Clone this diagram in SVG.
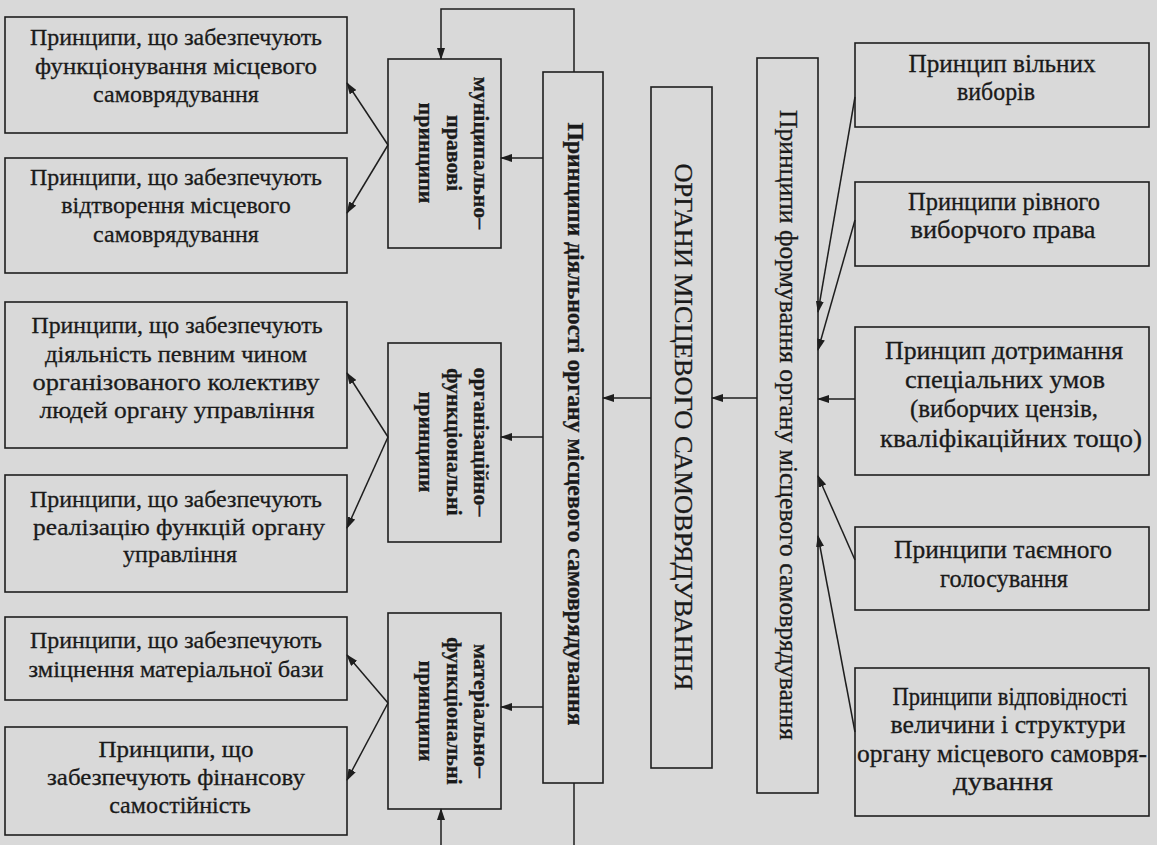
<svg xmlns="http://www.w3.org/2000/svg" width="1157" height="845" viewBox="0 0 1157 845">
<defs>
<marker id="ah" markerWidth="12" markerHeight="8" refX="11" refY="4" orient="auto" markerUnits="userSpaceOnUse">
<path d="M0,0 L12,4 L0,8 Z" fill="#1e1e1e"/>
</marker>
<style>
.box{fill:none;stroke:#1e1e1e;stroke-width:1.6}
.t{font-family:"Liberation Serif","Times New Roman",serif;font-size:24px;fill:#1a1a1a;stroke:#1a1a1a;stroke-width:0.3;text-anchor:middle}
.r{font-size:25px}
.b{font-weight:bold}
.v{font-family:"Liberation Serif","Times New Roman",serif;fill:#1a1a1a;stroke:#1a1a1a;stroke-width:0.3;text-anchor:middle}
.c{fill:none;stroke:#1e1e1e;stroke-width:1.5}
.ca{fill:none;stroke:#1e1e1e;stroke-width:1.5;marker-end:url(#ah)}
</style>
</defs>
<rect x="0" y="0" width="1157" height="845" fill="#d9d9d9"/>

<g id="connectors">
<path class="ca" d="M574,72 V9 H441 V59"/>
<path class="c" d="M574,783 V845"/>
<path class="ca" d="M441,845 V809"/>
<path class="ca" d="M543,158 H501"/>
<path class="ca" d="M543,437 H501"/>
<path class="ca" d="M543,707 H501"/>
<path class="ca" d="M651,398 H603"/>
<path class="ca" d="M757,398 H712"/>
<path class="ca" d="M388,145 L347,83"/>
<path class="ca" d="M388,145 L347,213"/>
<path class="ca" d="M388,437 L347,373"/>
<path class="ca" d="M388,437 L347,528"/>
<path class="ca" d="M388,703 L347,655"/>
<path class="ca" d="M388,703 L347,780"/>
<path class="ca" d="M855,97 L818,312"/>
<path class="ca" d="M855,220 L818,350"/>
<path class="ca" d="M855,399 H818"/>
<path class="ca" d="M855,560 L818,476"/>
<path class="ca" d="M855,732 L818,536"/>
</g>

<g id="left1">
<rect class="box" x="5" y="17" width="342" height="116"/>
<text class="t" x="176" y="45" textLength="292" lengthAdjust="spacingAndGlyphs">Принципи, що забезпечують</text>
<text class="t" x="176" y="74" textLength="282" lengthAdjust="spacingAndGlyphs">функціонування місцевого</text>
<text class="t" x="176" y="102">самоврядування</text>
</g>
<g id="left2">
<rect class="box" x="5" y="158" width="342" height="115"/>
<text class="t" x="176" y="185" textLength="292" lengthAdjust="spacingAndGlyphs">Принципи, що забезпечують</text>
<text class="t" x="176" y="213">відтворення місцевого</text>
<text class="t" x="176" y="242">самоврядування</text>
</g>
<g id="left3">
<rect class="box" x="5" y="302" width="342" height="146"/>
<text class="t" x="177" y="333" textLength="291" lengthAdjust="spacingAndGlyphs">Принципи, що забезпечують</text>
<text class="t" x="176" y="362" textLength="262" lengthAdjust="spacingAndGlyphs">діяльність певним чином</text>
<text class="t" x="176" y="390" textLength="287" lengthAdjust="spacingAndGlyphs">організованого колективу</text>
<text class="t" x="177" y="418" textLength="275" lengthAdjust="spacingAndGlyphs">людей органу управління</text>
</g>
<g id="left4">
<rect class="box" x="5" y="475" width="342" height="117"/>
<text class="t" x="176" y="507" textLength="292" lengthAdjust="spacingAndGlyphs">Принципи, що забезпечують</text>
<text class="t" x="179" y="535" textLength="292" lengthAdjust="spacingAndGlyphs">реалізацію функцій органу</text>
<text class="t" x="180" y="562">управління</text>
</g>
<g id="left5">
<rect class="box" x="5" y="617" width="342" height="83"/>
<text class="t" x="176" y="648" textLength="292" lengthAdjust="spacingAndGlyphs">Принципи, що забезпечують</text>
<text class="t" x="176" y="677" textLength="295" lengthAdjust="spacingAndGlyphs">зміцнення матеріальної бази</text>
</g>
<g id="left6">
<rect class="box" x="5" y="727" width="342" height="108"/>
<text class="t" x="176" y="757" textLength="155" lengthAdjust="spacingAndGlyphs">Принципи, що</text>
<text class="t" x="176" y="785" textLength="258" lengthAdjust="spacingAndGlyphs">забезпечують фінансову</text>
<text class="t" x="180" y="813">самостійність</text>
</g>

<g id="mid1">
<rect class="box" x="388" y="59" width="113" height="189"/>
<g transform="translate(474,153) rotate(90)">
<text class="v b" font-size="22" x="0" y="0">муніципально–</text>
<text class="v b" font-size="22" x="0" y="27">правові</text>
<text class="v b" font-size="22" x="0" y="55">принципи</text>
</g>
</g>
<g id="mid2">
<rect class="box" x="388" y="343" width="113" height="199"/>
<g transform="translate(474,442) rotate(90)">
<text class="v b" font-size="22" x="0" y="0">організаційно–</text>
<text class="v b" font-size="22" x="0" y="27">функціональні</text>
<text class="v b" font-size="22" x="0" y="55">принципи</text>
</g>
</g>
<g id="mid3">
<rect class="box" x="388" y="613" width="113" height="196"/>
<g transform="translate(474,711) rotate(90)">
<text class="v b" font-size="22" x="0" y="0">матеріально–</text>
<text class="v b" font-size="22" x="0" y="27">функціональні</text>
<text class="v b" font-size="22" x="0" y="55">принципи</text>
</g>
</g>

<g id="activity">
<rect class="box" x="543" y="72" width="60" height="711"/>
<text class="v b" font-size="24" transform="translate(568,424) rotate(90)" textLength="603" lengthAdjust="spacingAndGlyphs">Принципи діяльності органу місцевого самоврядування</text>
</g>
<g id="organs">
<rect class="box" x="651" y="87" width="61" height="681"/>
<text class="v" font-size="26" transform="translate(675,427) rotate(90)" textLength="527" lengthAdjust="spacingAndGlyphs">ОРГАНИ МІСЦЕВОГО САМОВРЯДУВАННЯ</text>
</g>
<g id="formation">
<rect class="box" x="757" y="58" width="61" height="735"/>
<text class="v" font-size="25" transform="translate(780,425) rotate(90)" textLength="630" lengthAdjust="spacingAndGlyphs">Принципи формування органу місцевого самоврядування</text>
</g>

<g id="right1">
<rect class="box" x="855" y="43" width="294" height="84"/>
<text class="t r" x="1002" y="72" textLength="187" lengthAdjust="spacingAndGlyphs">Принцип вільних</text>
<text class="t r" x="996" y="100" textLength="78" lengthAdjust="spacingAndGlyphs">виборів</text>
</g>
<g id="right2">
<rect class="box" x="855" y="182" width="294" height="84"/>
<text class="t r" x="1004" y="210" textLength="192" lengthAdjust="spacingAndGlyphs">Принципи рівного</text>
<text class="t r" x="1003" y="238" textLength="185" lengthAdjust="spacingAndGlyphs">виборчого права</text>
</g>
<g id="right3">
<rect class="box" x="855" y="327" width="294" height="148"/>
<text class="t r" x="1004" y="359" textLength="238" lengthAdjust="spacingAndGlyphs">Принцип дотримання</text>
<text class="t r" x="1005" y="388" textLength="200" lengthAdjust="spacingAndGlyphs">спеціальних умов</text>
<text class="t r" x="1004" y="417">(виборчих цензів,</text>
<text class="t r" x="1011" y="447" textLength="262" lengthAdjust="spacingAndGlyphs">кваліфікаційних тощо)</text>
</g>
<g id="right4">
<rect class="box" x="855" y="527" width="294" height="83"/>
<text class="t r" x="1003" y="558" textLength="218" lengthAdjust="spacingAndGlyphs">Принципи таємного</text>
<text class="t r" x="1004" y="587" textLength="128" lengthAdjust="spacingAndGlyphs">голосування</text>
</g>
<g id="right5">
<rect class="box" x="855" y="668" width="294" height="148"/>
<text class="t r" x="1010" y="705" textLength="235" lengthAdjust="spacingAndGlyphs">Принципи відповідності</text>
<text class="t r" x="1008" y="733" textLength="235" lengthAdjust="spacingAndGlyphs">величини і структури</text>
<text class="t r" x="1002" y="762" textLength="290" lengthAdjust="spacingAndGlyphs">органу місцевого самовря-</text>
<text class="t r" x="1003" y="790" textLength="100" lengthAdjust="spacingAndGlyphs">дування</text>
</g>
</svg>
